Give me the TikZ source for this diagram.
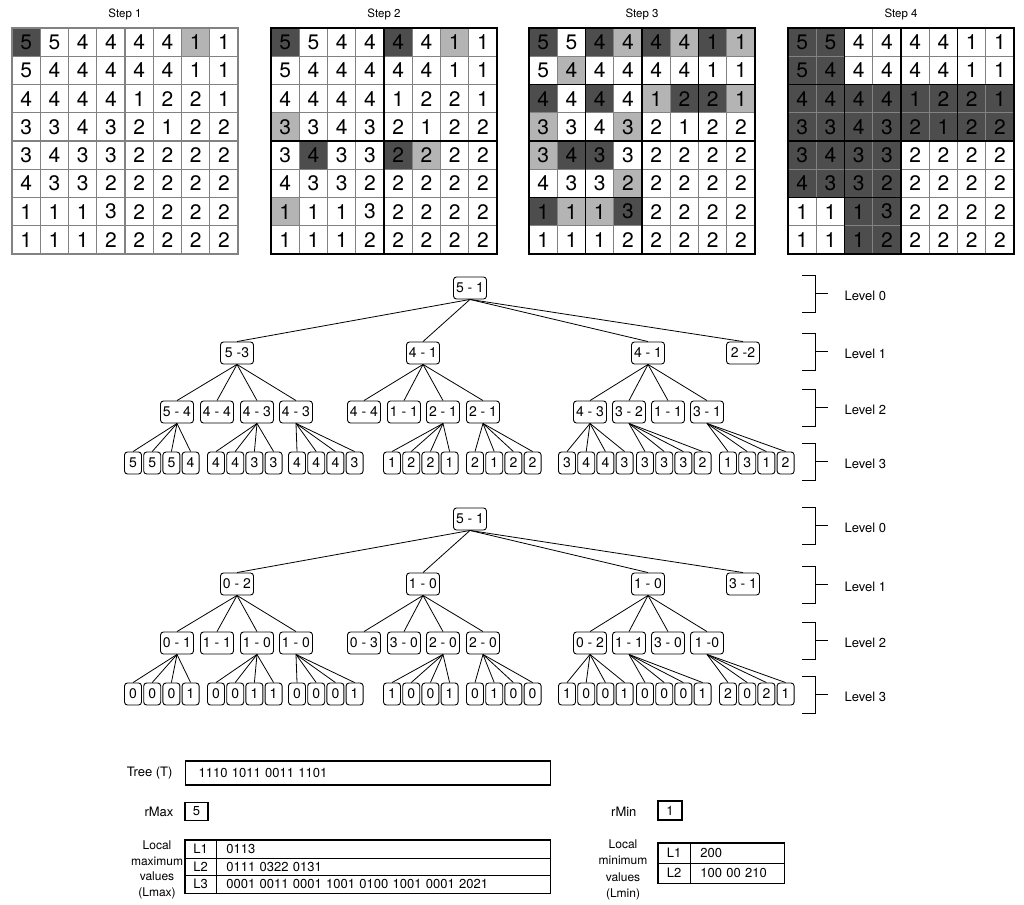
\documentclass[tikz,border=0pt]{standalone}
\usepackage{fontspec}
\setmainfont{TeX Gyre Heros}
\usetikzlibrary{positioning}
\definecolor{celldark}{RGB}{77, 77, 77}
\definecolor{celllight}{RGB}{180, 180, 180}
\definecolor{gridgray}{RGB}{130, 130, 130}

\tikzset{
    steptitle/.style={font=\fontsize{11.5}{13}\selectfont},
    cellnum/.style={inner sep=0pt, font=\fontsize{21}{23}\selectfont},
    tnode/.style={draw, line width=0.9pt, rounded corners=3pt, minimum width=33pt, minimum height=22pt,
        inner sep=2pt, font=\fontsize{14}{16}\selectfont},
    leafnode/.style={tnode, minimum width=17pt},
    tedge/.style={line width=0.8pt},
    levtext/.style={anchor=west, font=\fontsize{13}{15}\selectfont},
    smalltext/.style={font=\fontsize{13}{15.5}\selectfont},
    tabcell/.style={draw, inner sep=0pt, font=\fontsize{13}{15}\selectfont},
    thickgrid/.style={line width=1.6pt}
}

\newcommand{\gridvals}{{5,5,4,4,4,4,1,1},{5,4,4,4,4,4,1,1},{4,4,4,4,1,2,2,1},{3,3,4,3,2,1,2,2},%
    {3,4,3,3,2,2,2,2},{4,3,3,2,2,2,2,2},{1,1,1,3,2,2,2,2},{1,1,1,2,2,2,2,2}}

% colour, grid x, row, column
\newcommand{\shadecell}[4]{\fill[#1] ({#2+(#4-1)*28.25},{28+(#3-1)*28.25}) rectangle ++(28.25,28.25);}

% name, y shift, root, level 1, level 2, level 3
\newcommand{\qtree}[6]{%
    \node[tnode] (#1-0) at (470,{288+#2}) {#3};
    \foreach \lab [count=\i] in {#4} {
        \pgfmathsetmacro{\nx}{{237,423,648,743}[\i-1]}
        \node[tnode] (#1-a\i) at (\nx,{353+#2}) {\lab};
        \draw[tedge] (#1-0.south) -- (#1-a\i.north);
    }
    \foreach \lab [count=\i] in {#5} {
        \pgfmathsetmacro{\nx}{{177,217,257,296,364,404,443,483,590,629,668,707}[\i-1]}
        \pgfmathtruncatemacro{\pp}{ceil(\i/4)}
        \node[tnode] (#1-b\i) at (\nx,{412+#2}) {\lab};
        \draw[tedge] (#1-a\pp.south) -- (#1-b\i.north);
    }
    \foreach \lab [count=\i] in {#6} {
        \pgfmathtruncatemacro{\grp}{floor((\i-1)/4)}
        \pgfmathsetmacro{\nx}{{133,216,297,392,475,567,645,728}[\grp]+mod(\i-1,4)*19.2}
        \pgfmathtruncatemacro{\pp}{{1,3,4,7,8,9,10,12}[\grp]}
        \node[leafnode] (#1-c\i) at (\nx,{463+#2}) {\lab};
        \draw[tedge] (#1-b\pp.south) -- (#1-c\i.north);
    }
}

\begin{document}
\begin{tikzpicture}[x=1pt, y=-1pt]
\useasboundingbox (0,0) rectangle (1024,904);

% step grids
\foreach \gx [count=\s] in {12,271,529,788}
    \node[steptitle] (title\s) at (\gx+113,14) {Step \s};

\shadecell{celldark}{12}{1}{1}
\shadecell{celllight}{12}{1}{7}
\foreach \r/\c in {1/1,1/5,5/2,5/5} \shadecell{celldark}{271}{\r}{\c}
\foreach \r/\c in {4/1,1/7,5/6,7/1} \shadecell{celllight}{271}{\r}{\c}
\foreach \r/\c in {1/1,1/3,1/5,1/7,3/1,3/3,3/6,3/7,5/2,5/3,7/1,7/4} \shadecell{celldark}{529}{\r}{\c}
\foreach \r/\c in {1/4,1/6,1/8,2/2,3/5,3/8,4/1,4/4,5/1,6/4,7/2,7/3} \shadecell{celllight}{529}{\r}{\c}
\fill[celldark] (788,28) rectangle ++(56.5,56.5);
\fill[celldark] (788,84.5) rectangle ++(226,56.5);
\fill[celldark] (788,141) rectangle ++(113,56.5);
\fill[celldark] (844.5,197.5) rectangle ++(56.5,56.5);

\foreach \gx in {12,271,529,788}
    \foreach \i in {0,...,8} {
        \draw[gridgray, line width=1.2pt] (\gx+\i*28.25,28) -- ++(0,226);
        \draw[gridgray, line width=1.2pt] (\gx,28+\i*28.25) -- ++(226,0);
    }

\foreach \gx [count=\s] in {12,271,529,788}
    \foreach \row [count=\r] in \gridvals
        \foreach \v [count=\c] in \row
            \node[cellnum] (g\s-\r-\c) at ({\gx+(\c-0.5)*28.25},{28+(\r-0.5)*28.25}) {\v};

\draw[gridgray, line width=1.6pt] (12,28) rectangle ++(226,226);
\foreach \gx in {271,529,788} {
    \draw[thickgrid] (\gx,28) rectangle ++(226,226);
    \draw[thickgrid] (\gx+113,28) -- ++(0,226);
    \draw[thickgrid] (\gx,141) -- ++(226,0);
}
\foreach \gx in {529,788} {
    \draw[thickgrid] (\gx+56.5,28) -- ++(0,226);
    \draw[thickgrid] (\gx+169.5,28) -- ++(0,113);
    \draw[thickgrid] (\gx,84.5) -- ++(226,0);
    \draw[thickgrid] (\gx,197.5) -- ++(113,0);
}

% trees
\qtree{ta}{0}{5 - 1}{5 -3,4 - 1,4 - 1,2 -2}
    {5 - 4,4 - 4,4 - 3,4 - 3,4 - 4,1 - 1,2 - 1,2 - 1,4 - 3,3 - 2,1 - 1,3 - 1}
    {5,5,5,4,4,4,3,3,4,4,4,3,1,2,2,1,2,1,2,2,3,4,4,3,3,3,3,2,1,3,1,2}
\qtree{tb}{231}{5 - 1}{0 - 2,1 - 0,1 - 0,3 - 1}
    {0 - 1,1 - 1,1 - 0,1 - 0,0 - 3,3 - 0,2 - 0,2 - 0,0 - 2,1 - 1,3 - 0,1 -0}
    {0,0,0,1,0,0,1,1,0,0,0,1,1,0,0,1,0,1,0,0,1,0,0,1,0,0,0,1,2,0,2,1}

% level brackets
\foreach \ty/\lv in {275/0,333/1,389/2,443/3,507/0,566/1,622/2,676/3} {
    \draw[tedge] (802,\ty) -- (815,\ty) -- (815,\ty+37) -- (802,\ty+37);
    \draw[tedge] (815,\ty+18.5) -- (828,\ty+18.5);
    \node[levtext] (lev\ty) at (841,\ty+21) {Level \lv};
}

% encoded values
\node[smalltext, anchor=east] (treelab) at (176,773) {Tree (T)};
\node[tabcell, anchor=west, text width=339pt, inner xsep=13pt, minimum height=24pt, align=left,
    line width=1.2pt] (treebox) at (185,773) {1110 1011 0011 1101};

\node[smalltext, anchor=east] (rmaxlab) at (177,812) {rMax};
\node[tabcell, minimum width=23pt, minimum height=18pt, line width=1.2pt] (rmaxbox) at (196.5,811.5) {5};

\node[smalltext, align=center, font=\fontsize{12}{15.5}\selectfont] (lmaxlab) at (157,870) {Local\\maximum\\values\\(Lmax)};
\foreach \lab/\vals [count=\i] in {L1/0113, L2/0111 0322 0131, L3/0001 0011 0001 1001 0100 1001 0001 2021} {
    \node[tabcell, minimum width=31pt, minimum height=17.7pt] (lmaxk\i) at (200.5,{840+(\i-0.5)*17.7}) {\lab};
    \node[tabcell, right=0pt of lmaxk\i, text width=314pt, inner xsep=10pt, minimum height=17.7pt,
        align=left] (lmaxv\i) {\vals};
}
\draw[line width=1.2pt] (lmaxk1.north west) rectangle (lmaxv3.south east);

\node[smalltext, anchor=east] (rminlab) at (640,812) {rMin};
\node[tabcell, minimum width=24pt, minimum height=19pt, line width=1.2pt] (rminbox) at (670,810.5) {1};

\node[smalltext, align=center, font=\fontsize{12}{16.5}\selectfont] (lminlab) at (623,870) {Local\\minimum\\values\\(Lmin)};
\foreach \lab/\vals [count=\i] in {L1/200, L2/100 00 210} {
    \node[tabcell, minimum width=32pt, minimum height=20pt] (lmink\i) at (674,{843+(\i-0.5)*20}) {\lab};
    \node[tabcell, right=0pt of lmink\i, text width=74pt, inner xsep=10pt, minimum height=20pt,
        align=left] (lminv\i) {\vals};
}
\draw[line width=1.2pt] (lmink1.north west) rectangle (lminv2.south east);

\end{tikzpicture}
\end{document}
